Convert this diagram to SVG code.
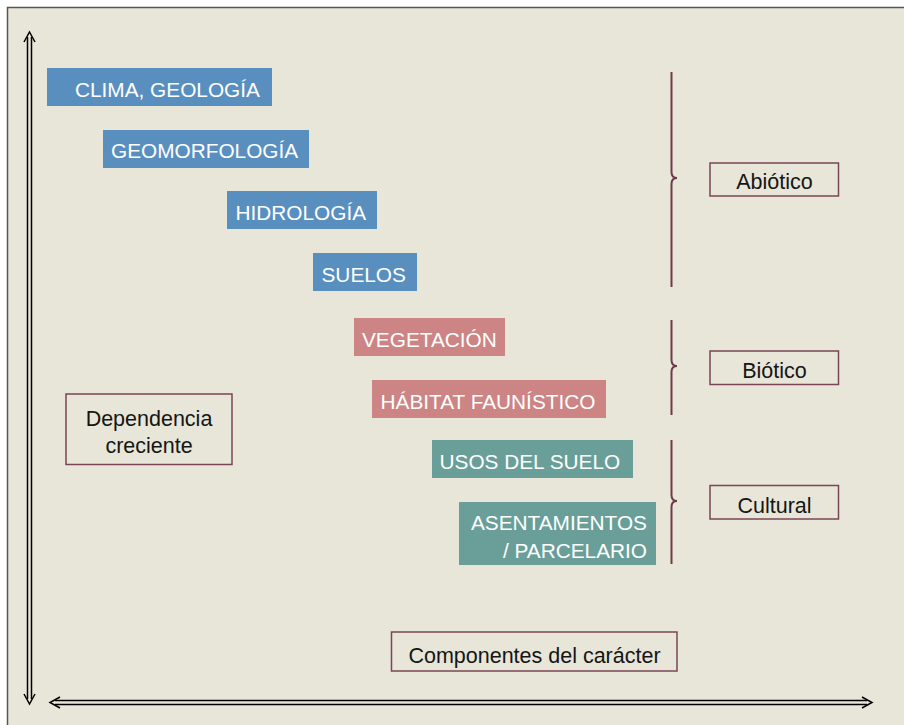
<svg xmlns="http://www.w3.org/2000/svg" width="904" height="725" viewBox="0 0 904 725">
<style>
.lbl{font-family:"Liberation Sans",Arial,sans-serif;font-size:20.8px;fill:#ffffff}
.txt{font-family:"Liberation Sans",Arial,sans-serif;font-size:21.5px;fill:#151515}
.blue{fill:#598FBF}
.pink{fill:#CC8584}
.teal{fill:#6A9F99}
.box{fill:none;stroke:#7A4657;stroke-width:1.5}
.brace{fill:none;stroke:#6E3B4C;stroke-width:2}
.arr{fill:none;stroke:#000;stroke-width:1.5}
</style>
<rect x="0" y="0" width="904" height="725" fill="#ffffff"/>
<rect x="7.5" y="7.5" width="900" height="720" fill="#E8E6D8" stroke="#555" stroke-width="1.5"/>

<g id="connectors">
  <g id="axis-vertical" class="arr">
    <line x1="27.5" y1="37" x2="27.5" y2="699"/>
    <line x1="31.5" y1="37" x2="31.5" y2="699"/>
    <polyline points="24,42 29.5,32 35,42"/>
    <polyline points="24,694 29.5,704 35,694"/>
  </g>
  <g id="axis-horizontal" class="arr">
    <line x1="55" y1="700.5" x2="867" y2="700.5"/>
    <line x1="55" y1="704.5" x2="867" y2="704.5"/>
    <polyline points="60,697 50,702.5 60,708"/>
    <polyline points="862,697 872,702.5 862,708"/>
  </g>
  <path id="brace-abiotico" class="brace" d="M671.5,72 V172 Q671.5,178 677,178 Q671.5,178 671.5,184 V287"/>
  <path id="brace-biotico" class="brace" d="M671.5,320 V360 Q671.5,366 677,366 Q671.5,366 671.5,372 V415"/>
  <path id="brace-cultural" class="brace" d="M671.5,440 V495 Q671.5,501 677,501 Q671.5,501 671.5,507 V564"/>
</g>

<g id="clima">
  <rect class="blue" x="47" y="68" width="225" height="38"/>
  <text class="lbl" x="75" y="97">CLIMA, GEOLOGÍA</text>
</g>
<g id="geomorfologia">
  <rect class="blue" x="103" y="130" width="206" height="38"/>
  <text class="lbl" x="111" y="158">GEOMORFOLOGÍA</text>
</g>
<g id="hidrologia">
  <rect class="blue" x="227" y="191" width="150" height="38"/>
  <text class="lbl" x="235.5" y="220">HIDROLOGÍA</text>
</g>
<g id="suelos">
  <rect class="blue" x="313" y="253" width="104" height="38"/>
  <text class="lbl" x="321.5" y="282">SUELOS</text>
</g>
<g id="vegetacion">
  <rect class="pink" x="354" y="318" width="151" height="38"/>
  <text class="lbl" x="362" y="347">VEGETACIÓN</text>
</g>
<g id="habitat">
  <rect class="pink" x="372" y="380" width="234" height="38"/>
  <text class="lbl" x="380.5" y="409">HÁBITAT FAUNÍSTICO</text>
</g>
<g id="usos">
  <rect class="teal" x="432" y="440" width="201" height="38"/>
  <text class="lbl" x="439.5" y="468.5">USOS DEL SUELO</text>
</g>
<g id="asentamientos">
  <rect class="teal" x="459" y="502" width="197" height="63"/>
  <text class="lbl" x="647" y="530" text-anchor="end">ASENTAMIENTOS</text>
  <text class="lbl" x="647" y="557.5" text-anchor="end">/ PARCELARIO</text>
</g>

<g id="abiotico">
  <rect class="box" x="710" y="163" width="128.5" height="33"/>
  <text class="txt" x="774.5" y="189" text-anchor="middle">Abiótico</text>
</g>
<g id="biotico">
  <rect class="box" x="710" y="351" width="128.5" height="33.5"/>
  <text class="txt" x="774.5" y="377.5" text-anchor="middle">Biótico</text>
</g>
<g id="cultural">
  <rect class="box" x="710" y="485.5" width="128.5" height="33.5"/>
  <text class="txt" x="774.5" y="512.5" text-anchor="middle">Cultural</text>
</g>
<g id="dependencia">
  <rect class="box" x="66" y="394" width="166" height="70.5"/>
  <text class="txt" x="149" y="425.5" text-anchor="middle">Dependencia</text>
  <text class="txt" x="149" y="452.5" text-anchor="middle">creciente</text>
</g>
<g id="componentes">
  <rect class="box" x="391.5" y="632" width="285.5" height="39"/>
  <text class="txt" x="534.5" y="663" text-anchor="middle">Componentes del carácter</text>
</g>
</svg>
